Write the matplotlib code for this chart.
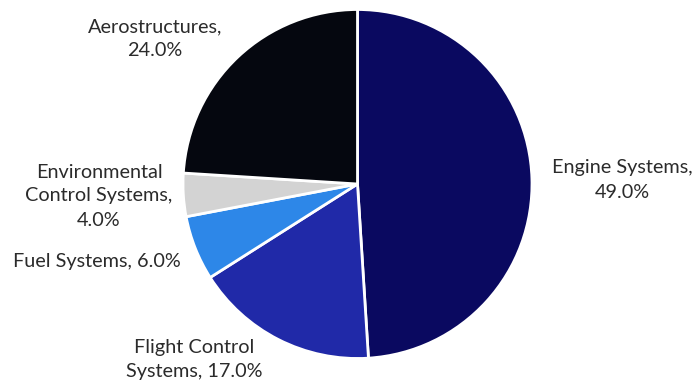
import matplotlib.pyplot as plt

# segment shares (%), clockwise from 12 o'clock
segments = ["Engine Systems", "Flight Control Systems", "Fuel Systems",
            "Environmental Control Systems", "Aerostructures"]
shares = [49.0, 17.0, 6.0, 4.0, 24.0]
label_text = ["Engine Systems,\n49.0%", "Flight Control\nSystems, 17.0%",
              "Fuel Systems, 6.0%", "Environmental\nControl Systems,\n4.0%",
              "Aerostructures,\n24.0%"]

colors = ["#0a0960", "#2029a8", "#2d87e8", "#d3d3d3", "#05070f"]
# label centres in pixels (x from left, y from top)
label_pos = [(622, 180), (194, 360), (97, 262), (99, 196), (155, 39)]

W, H = 697, 385
fig = plt.figure(figsize=(W / 100, H / 100), dpi=100)
ax = fig.add_axes([0, 0, 1, 1])

cx, cy, r = 357.5, H - 184, 174.5
ax.pie(shares, colors=colors, startangle=90, counterclock=False,
       center=(cx, cy), radius=r, frame=True,
       wedgeprops=dict(edgecolor="white", linewidth=2))
ax.set_xlim(0, W)
ax.set_ylim(0, H)
ax.set_aspect("equal")
ax.axis("off")

for txt, (x, y) in zip(label_text, label_pos):
    ax.text(x, H - y, txt, ha="center", va="center", fontsize=14.3,
            family="Lato", color="#2b2b2b", linespacing=1.5)

fig.savefig("out.png", dpi=100)
